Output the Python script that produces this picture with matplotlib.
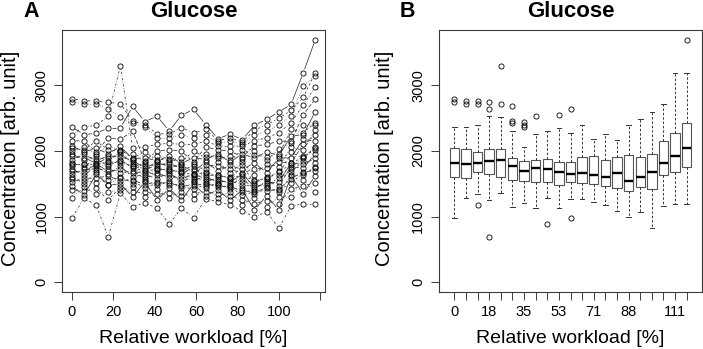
import numpy as np
import matplotlib
matplotlib.use("Agg")
import matplotlib.pyplot as plt

plt.rcParams['font.family'] = ['Liberation Sans', 'DejaVu Sans']

# relative workload of each stage [%]
workload = [0, 5.9, 11.8, 17.6, 23.5, 29.4, 35.3, 41.2, 47.1, 52.9, 58.8,
            64.7, 70.6, 76.5, 82.4, 88.2, 94.1, 100.0, 105.9, 111.8, 117.6]
box_labels = ['0', '', '', '18', '', '', '35', '', '', '53', '', '', '71',
              '', '', '88', '', '', '', '111', '']

# glucose per stage, one value per subject (same subject order in each list)
stage_00 = [2367, 2798, 2747, 2250, 2160, 2080, 2040, 2000, 1960, 1920, 1870, 1820, 1800, 1770, 1730, 1690, 1650, 1608, 1570, 1530, 1470, 1400, 1290, 977]
stage_01 = [2250, 2770, 2720, 2367, 2150, 1990, 2020, 2060, 1860, 1900, 1950, 1760, 1800, 1810, 1630, 1680, 1720, 1500, 1550, 1584, 1330, 1390, 1450, 1280]
stage_02 = [2270, 2760, 2710, 2392, 1990, 2040, 2150, 1960, 1920, 1815, 1850, 1880, 1740, 1790, 1770, 1805, 1710, 1684, 1520, 1590, 1650, 1430, 1341, 1179]
stage_03 = [2350, 2745, 2645, 2533, 2200, 1960, 2020, 2080, 1850, 1890, 1930, 1770, 1810, 1840, 1649, 1690, 1730, 1480, 1560, 1620, 1480, 1255, 1380, 689]
stage_04 = [2350, 2720, 2518, 3302, 2180, 2070, 2020, 2000, 1980, 1950, 1910, 1870, 1850, 1820, 1770, 1720, 1660, 1608, 1590, 1550, 1500, 1450, 1400, 1356]
stage_05 = [2680, 2460, 2420, 2050, 2300, 1880, 1896, 1950, 1800, 1830, 1860, 1740, 1765, 1775, 1610, 1660, 1700, 1500, 1540, 1558, 1300, 1380, 1450, 1153]
stage_06 = [2450, 2400, 2370, 2063, 1851, 1900, 1980, 1830, 1800, 1705, 1740, 1770, 1610, 1670, 1640, 1695, 1580, 1548, 1440, 1490, 1530, 1380, 1300, 1214]
stage_07 = [2530, 2266, 2200, 2100, 2000, 1850, 1871, 1930, 1770, 1800, 1830, 1710, 1730, 1740, 1580, 1630, 1670, 1480, 1510, 1532, 1250, 1340, 1420, 1128]
stage_08 = [2306, 2260, 2200, 2120, 2020, 1930, 1876, 1860, 1830, 1800, 1760, 1725, 1715, 1700, 1670, 1630, 1590, 1543, 1520, 1490, 1430, 1360, 1280, 886]
stage_09 = [2544, 2357, 2250, 2100, 2000, 1810, 1835, 1900, 1720, 1750, 1780, 1660, 1680, 1690, 1530, 1580, 1620, 1430, 1460, 1482, 1250, 1320, 1380, 1128]
stage_10 = [2635, 2276, 2200, 2100, 1835, 1900, 2000, 1800, 1770, 1655, 1690, 1730, 1580, 1630, 1610, 1645, 1550, 1523, 1420, 1470, 1500, 1350, 1270, 986]
stage_11 = [2403, 2330, 2250, 2150, 2060, 1870, 1902, 1960, 1720, 1780, 1830, 1640, 1665, 1675, 1540, 1580, 1610, 1470, 1495, 1508, 1320, 1380, 1430, 1270]
stage_12 = [2190, 2160, 2120, 2080, 2020, 1960, 1922, 1890, 1840, 1770, 1700, 1640, 1630, 1610, 1580, 1550, 1520, 1497, 1480, 1450, 1410, 1350, 1290, 1229]
stage_13 = [2256, 2200, 2150, 2080, 2000, 1830, 1861, 1920, 1660, 1720, 1780, 1575, 1595, 1605, 1490, 1520, 1550, 1420, 1450, 1467, 1250, 1320, 1380, 1179]
stage_14 = [2175, 2140, 2110, 2070, 1911, 1960, 2020, 1880, 1830, 1665, 1720, 1780, 1530, 1620, 1580, 1655, 1480, 1432, 1330, 1380, 1410, 1260, 1180, 1088]
stage_15 = [2392, 2320, 2240, 2160, 2080, 1890, 1937, 2000, 1640, 1730, 1820, 1510, 1540, 1555, 1420, 1450, 1480, 1340, 1380, 1396, 1100, 1200, 1280, 992]
stage_16 = [2483, 2400, 2300, 2200, 2100, 1990, 1911, 1870, 1810, 1740, 1670, 1605, 1595, 1570, 1540, 1510, 1480, 1447, 1430, 1390, 1320, 1240, 1150, 1077]
stage_17 = [2594, 2500, 2400, 2280, 2150, 1930, 1948, 2030, 1760, 1830, 1890, 1640, 1680, 1690, 1470, 1530, 1590, 1370, 1400, 1417, 1100, 1200, 1300, 825]
stage_18 = [2711, 2620, 2530, 2430, 2154, 2230, 2330, 2120, 2060, 1825, 1900, 1980, 1720, 1790, 1760, 1815, 1680, 1634, 1510, 1580, 1620, 1420, 1300, 1164]
stage_19 = [3192, 2820, 2990, 2700, 2550, 2250, 2281, 2400, 2010, 2100, 2180, 1890, 1915, 1930, 1740, 1800, 1850, 1630, 1670, 1684, 1350, 1470, 1560, 1194]
stage_20 = [3697, 3192, 3150, 2980, 2800, 2600, 2433, 2390, 2320, 2240, 2150, 2065, 2045, 2010, 1960, 1890, 1820, 1751, 1740, 1700, 1620, 1520, 1380, 1194]

# boxplot summary per stage (panel B)
box_med = [1811, 1806, 1811, 1846, 1861, 1770, 1699, 1735, 1720, 1684, 1649, 1669, 1634, 1599, 1659, 1548, 1599, 1684, 1820, 1922, 2054]
box_q1 = [1608, 1584, 1684, 1649, 1608, 1558, 1548, 1532, 1532, 1482, 1523, 1508, 1497, 1467, 1432, 1396, 1447, 1417, 1634, 1684, 1751]
box_q3 = [2054, 2024, 1987, 2024, 2024, 1896, 1851, 1871, 1876, 1835, 1835, 1902, 1922, 1861, 1911, 1937, 1911, 1948, 2154, 2281, 2433]
box_lo = [977, 1280, 1341, 1255, 1356, 1153, 1214, 1128, 1280, 1128, 1270, 1270, 1229, 1179, 1088, 992, 1077, 825, 1164, 1194, 1194]
box_hi = [2367, 2367, 2392, 2533, 2518, 2300, 2063, 2266, 2306, 2357, 2276, 2403, 2190, 2256, 2175, 2392, 2483, 2594, 2711, 3192, 3192]
box_out = [[2798, 2747], [2770, 2720], [2760, 2710, 1179], [2745, 2645, 689], [3302, 2720],
           [2680, 2460, 2420], [2450, 2400, 2370], [2530], [886], [2544], [2635, 986],
           [], [], [], [], [], [], [], [], [], [3697]]

glucose = np.array([stage_00, stage_01, stage_02, stage_03, stage_04, stage_05, stage_06,
                    stage_07, stage_08, stage_09, stage_10, stage_11, stage_12, stage_13,
                    stage_14, stage_15, stage_16, stage_17, stage_18, stage_19, stage_20], dtype=float)

W, H = 703, 349
fig = plt.figure(figsize=(W / 100, H / 100), dpi=100)
axA = fig.add_axes([62 / W, 57 / H, 263 / W, 262 / H])
axB = fig.add_axes([438.7 / W, 57 / H, 263.6 / W, 262 / H])

frame = '#3a3a3a'
lty = ['-', (0, (3, 3)), (0, (0.8, 2.2)), (0, (0.8, 2.2, 3, 2.2)), (0, (5, 2.2))]

# R-like 4% padding, y range includes 0
ymax = glucose.max()
ylim = (-0.04 * ymax, ymax * 1.04)

# ---- panel A: individual courses (type = "b")
xr = workload[-1] - workload[0]
axA.set_xlim(workload[0] - 0.04 * xr, workload[-1] + 0.04 * xr)
axA.set_ylim(*ylim)
gap = 4.0  # px left free around each point
inv = axA.transData.inverted()
for i in range(glucose.shape[1]):
    pts = axA.transData.transform(np.column_stack([workload, glucose[:, i]]))
    for p1, p2 in zip(pts[:-1], pts[1:]):
        d = p2 - p1
        L = np.hypot(*d)
        if L <= 2 * gap:
            continue
        q = inv.transform([p1 + d / L * gap, p2 - d / L * gap])
        axA.plot(q[:, 0], q[:, 1], color='#333333', lw=0.55, ls=lty[i % 5],
                 solid_capstyle='butt', dash_capstyle='butt')
axA.plot(workload, glucose, 'o', mfc='none', mec='black', ms=3.7, mew=0.6)
axA.set_xticks([0, 20, 40, 60, 80, 100, 120])
axA.set_xticklabels(['0', '20', '40', '60', '80', '100', ''])

# ---- panel B: boxplots per stage
stats = []
for i in range(len(box_med)):
    stats.append(dict(med=box_med[i], q1=box_q1[i], q3=box_q3[i],
                      whislo=box_lo[i], whishi=box_hi[i], fliers=box_out[i]))
pos = np.arange(1, len(stats) + 1)
axB.bxp(stats, positions=pos, widths=0.8, capwidths=0.4, patch_artist=True,
        boxprops=dict(facecolor='white', edgecolor='#555555', lw=0.8),
        medianprops=dict(color='black', lw=1.7, solid_capstyle='butt'),
        whiskerprops=dict(color='#333333', lw=0.7, ls=(0, (2.5, 2))),
        capprops=dict(color='#333333', lw=0.7),
        flierprops=dict(marker='o', mfc='none', mec='black', ms=3.7, mew=0.6))
n = len(stats)
axB.set_xlim(0.5 - 0.04 * n, n + 0.5 + 0.04 * n)
axB.set_ylim(*ylim)
axB.set_xticks(pos)
axB.set_xticklabels(box_labels)

for ax in (axA, axB):
    ax.set_yticks([0, 1000, 2000, 3000])
    ax.set_yticklabels(['0', '1000', '2000', '3000'])
    ax.tick_params(length=5.8, width=0.7, color=frame, labelsize=10.5, pad=3.5)
    ax.tick_params(axis='y', pad=4)
    for lab in ax.get_yticklabels():
        lab.set_rotation(90)
        lab.set_va('center')
    for s in ax.spines.values():
        s.set_color(frame)
        s.set_linewidth(0.8)

# ---- texts
for ax, letter, lx in ((axA, 'A', 23), (axB, 'B', 400)):
    b = ax.get_position()
    cx = (b.x0 + b.x1) / 2
    fig.text(cx, 1 - 16.7 / H, 'Glucose', ha='center', va='baseline',
             weight='bold', size=16)
    fig.text(lx / W, 1 - 16.7 / H, letter, ha='left', va='baseline',
             weight='bold', size=15.5)
    fig.text(cx, 1 - 343.3 / H, 'Relative workload [%]', ha='center',
             va='baseline', size=14)
for x in (11, 385):
    fig.text(x / W, 1 - 158 / H, 'Concentration [arb. unit]', rotation=90,
             ha='center', va='center', size=14.5)

fig.savefig('out.png', dpi=100)
